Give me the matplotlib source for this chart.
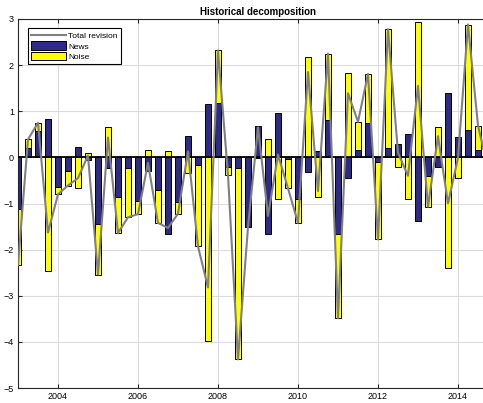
import matplotlib
matplotlib.use("Agg")
import matplotlib.pyplot as plt
import numpy as np

plt.rcParams['font.family'] = ['Liberation Sans', 'DejaVu Sans']

# quarterly data, first quarter 2003
start_year = 2003
news = [-1.12, 0.21, 0.57, 0.83, -0.65, -0.30, 0.22, -0.06,
        -1.45, -0.23, -0.86, -0.23, -0.94, -0.29, -0.71, -1.67,
        -0.97, 0.46, -0.16, 1.16, 1.18, -0.20, -0.23, -1.51,
        0.67, -1.66, 0.96, -0.04, -0.90, -0.32, 0.13, 0.80,
        -1.66, -0.45, 0.16, 0.75, -0.10, 0.20, 0.30, 0.51,
        -1.39, -0.40, -0.20, 1.40, 0.44, 0.60, 0.15, -0.10]
noise = [-1.21, 0.18, 0.18, -2.46, -0.15, -0.31, -0.67, 0.10,
         -1.09, 0.66, -0.78, -1.07, -0.29, 0.17, -0.71, 0.14,
         -0.25, -0.33, -1.77, -3.98, 1.14, -0.18, -4.15, 0.00,
         -0.02, 0.39, -0.90, -0.63, -0.52, 2.17, -0.86, 1.45,
         -1.83, 1.84, 0.61, 1.06, -1.68, 2.58, -0.20, -0.91,
         2.94, -0.67, 0.66, -2.40, -0.45, 2.28, 0.54, -0.14]

news = np.array(news)
noise = np.array(noise)
dates = start_year + 0.25 * np.arange(len(news))
total = news + noise

# stack positives on positives, negatives on negatives
noise_bottom = np.where(np.sign(news) == np.sign(noise), news, 0.0)

fig = plt.figure(figsize=(4.83, 4.03), dpi=100)
ax = fig.add_axes([18 / 483, 1 - 388 / 403, 480 / 483, 369 / 403])

w = 0.165
b1 = ax.bar(dates, news, w, color='#2e2a87', edgecolor='black', linewidth=0.7,
            zorder=2)
b2 = ax.bar(dates, noise, w, bottom=noise_bottom, color='#ffff00',
            edgecolor='black', linewidth=0.7, zorder=2)
ax.axhline(0, color='black', linewidth=1.3, zorder=3)
ln, = ax.plot(dates, total, color='#808080', linewidth=1.5, zorder=4)

ax.set_xlim(2003, 2015)
ax.set_ylim(-5, 3)
ax.set_xticks([2004, 2006, 2008, 2010, 2012, 2014])
ax.set_yticks(range(-5, 4))
ax.grid(True, color='#dcdcdc', linewidth=0.8, zorder=0)
ax.set_axisbelow(True)
ax.tick_params(direction='in', length=3, labelsize=6.5, top=True,
               right=True, color='#262626', pad=3)
for s in ax.spines.values():
    s.set_color('#262626')
    s.set_linewidth(0.8)

ax.set_title('Historical decomposition', fontsize=7, fontweight='bold',
             pad=3)

leg = ax.legend([ln, b1, b2], ['Total revision', 'News', 'Noise'],
                loc='upper left', bbox_to_anchor=(0.021, 0.975),
                fontsize=6, fancybox=False, framealpha=1, edgecolor='black',
                handlelength=4.2, handleheight=1.2, borderpad=0.35,
                labelspacing=0.15, handletextpad=0.3, borderaxespad=0)
leg.get_frame().set_linewidth(0.8)

fig.savefig('out.png', dpi=100)
